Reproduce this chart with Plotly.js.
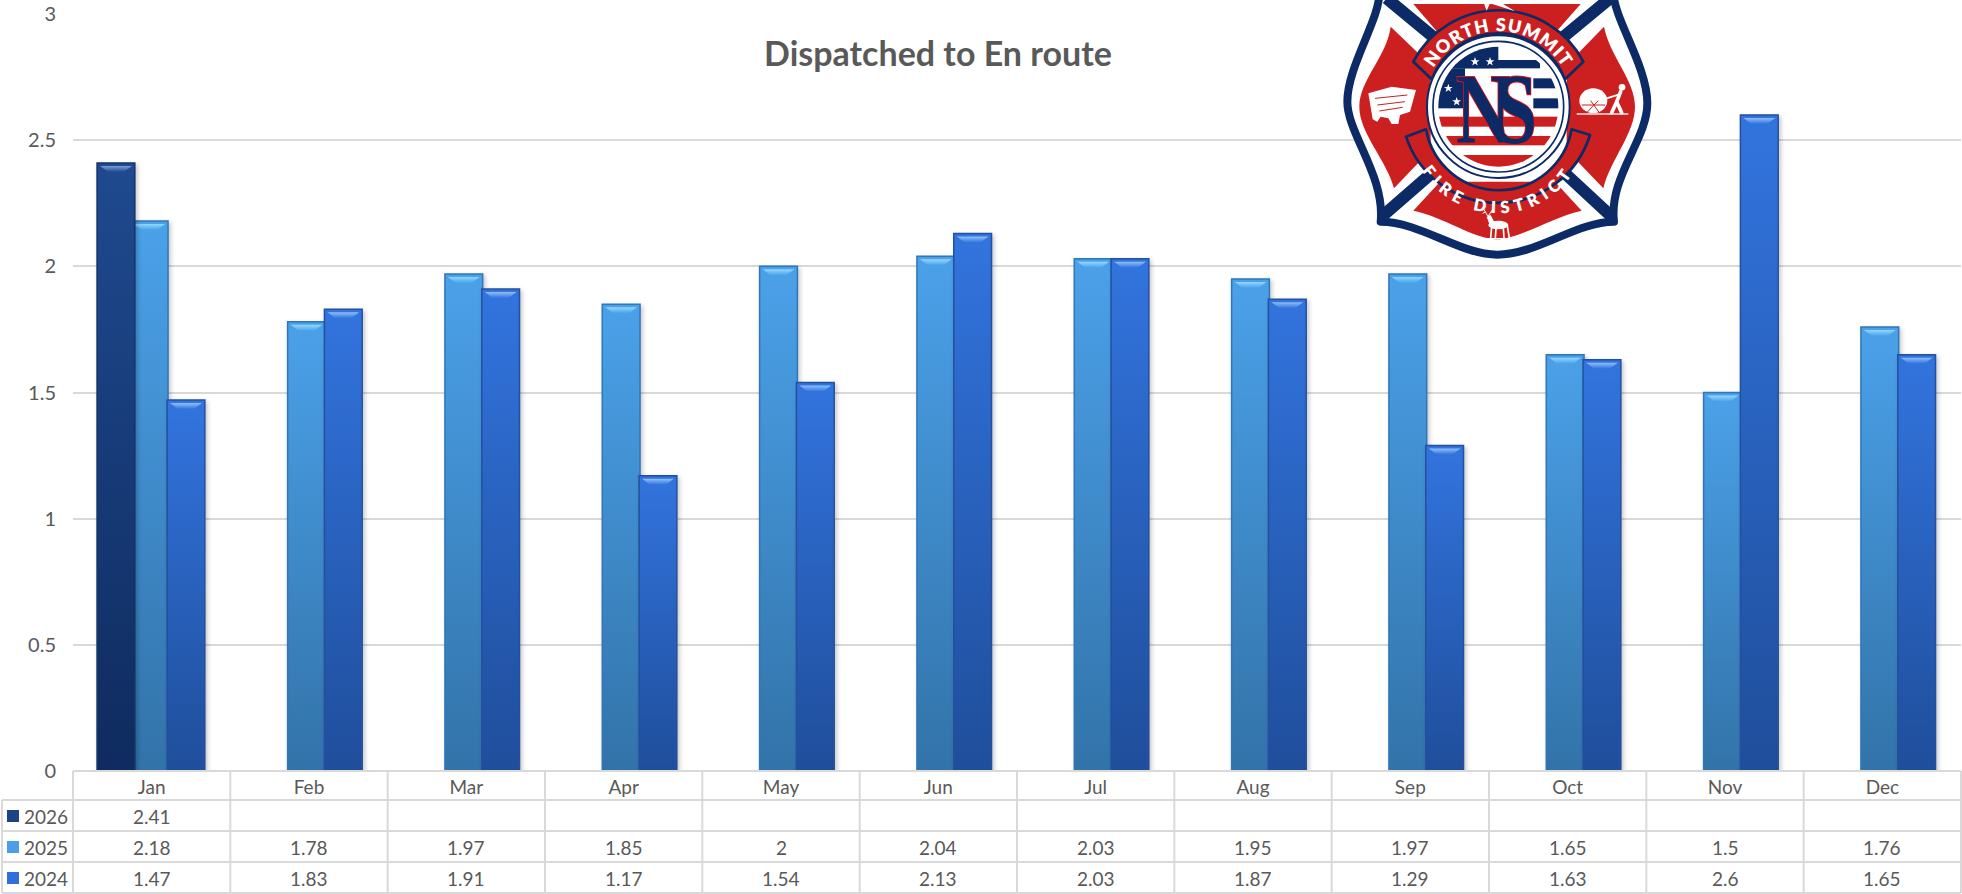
<!DOCTYPE html>
<html>
<head>
<meta charset="utf-8">
<script src="https://cdn.plot.ly/plotly-3.0.0.min.js"></script>
<style>
html,body{margin:0;padding:0;background:#fff;overflow:hidden}
#wrap{position:relative;width:1962px;height:894px}
#chart{position:absolute;left:0;top:0;width:1962px;height:894px}
#logo{position:absolute;left:1320px;top:0;width:340px;height:270px;overflow:hidden}
</style>
</head>
<body>
<div id="wrap">
<div id="chart"></div>
<svg id="logo" viewBox="0 0 1020 810" xmlns="http://www.w3.org/2000/svg">
  <defs>
    <clipPath id="flagClip"><circle cx="535" cy="320" r="180"/></clipPath>
    <path id="arcTop" d="M320,250 A226,226 0 0 1 750,250"/>
    <path id="arcBottom" d="M265,370 A270,270 0 0 0 805,370"/>
    <polygon id="star" points="0,-14 3.3,-4.3 13.3,-4.3 5.3,1.6 8.2,11.3 0,5.3 -8.2,11.3 -5.3,1.6 -13.3,-4.3 -3.3,-4.3"/>
  </defs>
  <path d="M178,-20 C178,60 82,200 82,305 C82,400 196,530 182,665 C300,665 420,764 532,764 C650,764 770,665 882,665 C866,530 982,420 982,310 C982,200 884,60 880,-20 Z" fill="#fff" stroke="#0b2a66" stroke-width="24" stroke-linejoin="round"/>
  <g fill="#cc1f1f">
    <path d="M280,12 L782,12 L700,105 L360,105 Z"/>
    <path d="M212,80 L332,195 L332,450 L222,565 C200,480 118,400 118,320 C118,240 200,170 212,80 Z"/>
    <path d="M852,80 C870,170 945,240 945,320 C945,400 870,480 850,565 L740,450 L740,195 Z"/>
    <path d="M280,632 L360,545 L705,545 L785,632 C700,650 600,716 530,718 C460,716 370,650 280,632 Z"/>
  </g>
  <g stroke="#0b2a66" stroke-width="36">
    <line x1="200" y1="-5" x2="345" y2="115"/>
    <line x1="870" y1="-5" x2="725" y2="115"/>
    <line x1="185" y1="650" x2="335" y2="520"/>
    <line x1="875" y1="650" x2="735" y2="520"/>
  </g>
  <path d="M280,185 A288,288 0 0 1 790,185 L735,238 A214,214 0 0 0 335,238 Z" fill="#cc1f1f" stroke="#0b2a66" stroke-width="8" stroke-linejoin="round"/>
  <path d="M258,410 L318,388 A222,222 0 0 0 755,388 L810,405 A290,290 0 0 1 258,410 Z" fill="#cc1f1f" stroke="#0b2a66" stroke-width="8" stroke-linejoin="round"/>
  <circle cx="535" cy="320" r="214" fill="#fff" stroke="#0b2a66" stroke-width="6"/>
  <circle cx="535" cy="320" r="196" fill="#fff" stroke="#0b2a66" stroke-width="5"/>
  <g clip-path="url(#flagClip)">
    <rect x="340" y="130" width="390" height="380" fill="#fff"/>
    <g fill="#cc1f1f">
      <rect x="340" y="350" width="390" height="30"/>
      <rect x="340" y="408" width="390" height="28"/>
      <rect x="340" y="465" width="390" height="45"/>
    </g>
    <g fill="#0b2a66">
      <rect x="340" y="130" width="195" height="75"/>
      <rect x="340" y="180" width="320" height="25"/>
      <rect x="340" y="205" width="95" height="120"/>
      <rect x="640" y="235" width="90" height="30"/>
      <rect x="640" y="295" width="90" height="30"/>
    </g>
    <g fill="#fff">
      <use href="#star" x="465" y="185"/><use href="#star" x="510" y="185"/><use href="#star" x="510" y="225"/>
      <use href="#star" x="385" y="265"/><use href="#star" x="410" y="305"/>
    </g>
  </g>
  <text transform="translate(408,425) scale(0.75,1)" font-family="Liberation Serif" font-weight="700" font-size="300" letter-spacing="-60" fill="#0b2a66" stroke="#e0141c" stroke-width="6" paint-order="stroke">NS</text>
  <g font-family="Lato" font-weight="800" fill="#fff">
    <text font-size="54"><textPath href="#arcTop" startOffset="50%" text-anchor="middle" letter-spacing="3">NORTH SUMMIT</textPath></text>
    <text font-size="50"><textPath href="#arcBottom" startOffset="50%" text-anchor="middle" letter-spacing="16">FIRE DISTRICT</textPath></text>
  </g>
  <g fill="#fff">
    <path d="M145,280 L215,260 L288,270 L270,335 L240,345 L235,372 L215,372 L205,355 L182,350 L172,365 L158,358 Z"/>
    <g stroke="#cc1f1f" stroke-width="3" fill="none"><path d="M165,295 L262,285 M172,315 L255,305 M178,333 L248,322"/></g>
    <ellipse cx="820" cy="302" rx="42" ry="37"/>
    <g stroke="#cc1f1f" stroke-width="3" fill="none"><path d="M785,315 L855,315 M800,338 L835,302 M838,338 L812,302"/></g>
    <circle cx="906" cy="262" r="10"/>
    <rect x="770" y="340" width="155" height="4"/>
    <g stroke="#fff" stroke-width="11" fill="none" stroke-linecap="round"><path d="M902,275 L890,305 L875,338 M890,305 L905,338"/><path stroke-width="5" d="M898,283 L860,295"/></g>
    <ellipse cx="535" cy="675" rx="30" ry="13"/>
    <path d="M500,650 L512,645 L524,668 L510,678 Z"/>
    <g stroke="#fff" stroke-width="5" fill="none"><path d="M515,680 L512,714 M528,685 L526,714 M550,685 L552,714 M562,678 L568,714"/><path stroke-width="3" d="M503,648 L490,625 M505,648 L520,625 M496,636 L488,640 M513,636 L522,638"/></g>
    <rect x="492" y="714" width="82" height="3"/>
    <path d="M488,0 L500,32 L510,10 L585,34 L530,0 Z"/>
  </g>
</svg>
</div>
<script>
const months = ["Jan","Feb","Mar","Apr","May","Jun","Jul","Aug","Sep","Oct","Nov","Dec"];
const years = ["2026","2025","2024"];
const v2026 = [2.41,null,null,null,null,null,null,null,null,null,null,null];
const v2025 = [2.18,1.78,1.97,1.85,2,2.04,2.03,1.95,1.97,1.65,1.5,1.76];
const v2024 = [1.47,1.83,1.91,1.17,1.54,2.13,2.03,1.87,1.29,1.63,2.6,1.65];
const yTicks = [0,0.5,1,1.5,2,2.5,3];

const series = [v2026,v2025,v2024];
const swatch = ["#1b4486","#4a9fe6","#2f6fdc"];
const gradTop = ["#1f4a8f","#4ba1e9","#3274de"];
const gradBottom = ["#0f2b5f","#3273a9","#1f4e9b"];
const edge = ["#133469","#2f77b8","#24509f"];
const glow = ["#7d9fdc","#93d8fb","#8fc0f8"];
const offsets = [-0.347,-0.136,0.098];
const textColor = "#595959", gridColor = "#d9d9d9";

const W = 1962, H = 894, L = 73, R = 1, T = 14, B = 123;
const px = x => (x - L) / (W - L - R);
const py = y => (H - B - y) / (H - T - B);

// draw 2025, 2024, then 2026 on top
const drawOrder = [1,2,0];
const traces = drawOrder.map(i => ({
  type:"bar", name:years[i], x:months, y:series[i],
  width:0.24, offset:offsets[i],
  marker:{color:swatch[i], line:{color:edge[i], width:1.5}},
  hoverinfo:"skip", showlegend:false
}));

const rowY = [816,847,878];
const annotations = [];
years.forEach((yr,r) => {
  annotations.push({xref:"paper",yref:"paper",x:px(46),y:py(rowY[r]),text:yr,showarrow:false,
    xanchor:"center",yanchor:"middle",font:{family:"Lato",size:19,color:textColor}});
  series[r].forEach((val,c) => {
    if (val === null) return;
    annotations.push({xref:"x",yref:"paper",x:months[c],y:py(rowY[r]),text:String(val),showarrow:false,
      xanchor:"center",yanchor:"middle",font:{family:"Lato",size:19,color:textColor}});
  });
});

const line = (x0,y0,x1,y1) => ({type:"line",xref:"paper",yref:"paper",x0:px(x0),y0:py(y0),x1:px(x1),y1:py(y1),
  line:{color:gridColor,width:2},layer:"above"});
const shapes = [];
[771,800,831,862,893].forEach((y,i) => shapes.push(line(i===0?L:2,y,W-1,y)));
shapes.push(line(2,800,2,893));
for (let i=0;i<=months.length;i++){
  const x = L + i*(W-L-R)/months.length;
  shapes.push(line(Math.min(x,W-1),771,Math.min(x,W-1),893));
}
years.forEach((yr,r) => shapes.push({type:"rect",xref:"paper",yref:"paper",
  x0:px(7),x1:px(19),y0:py(rowY[r]-6),y1:py(rowY[r]+6),
  fillcolor:swatch[r],line:{width:0},layer:"above"}));

const layout = {
  width:W,height:H,
  margin:{l:L,r:R,t:T,b:B,pad:0},
  paper_bgcolor:"#fff",plot_bgcolor:"#fff",
  barmode:"overlay",
  title:{text:"Dispatched to En route",xref:"container",yref:"container",x:938/W,y:1-54/H,
    xanchor:"center",yanchor:"middle",font:{family:"Lato",size:34,weight:700,color:textColor}},
  xaxis:{type:"category",categoryorder:"array",categoryarray:months,range:[-0.5,11.5],
    showgrid:false,zeroline:false,showline:false,ticks:"",
    tickfont:{family:"Lato",size:19,color:textColor},ticklabelstandoff:3},
  yaxis:{range:[0,3],tickvals:yTicks,ticktext:yTicks.map(String),
    gridcolor:gridColor,gridwidth:2,zeroline:false,showline:false,ticks:"",
    tickfont:{family:"Lato",size:20,color:textColor},ticklabelstandoff:16},
  shapes,annotations,showlegend:false
};

Plotly.newPlot("chart",traces,layout,{staticPlot:true,displayModeBar:false}).then(gd => {
  const NS = "http://www.w3.org/2000/svg";
  const svg = gd.querySelector(".main-svg");
  let defs = svg.querySelector("defs");
  const mk = (id,stops) => {
    const g = document.createElementNS(NS,"linearGradient");
    g.setAttribute("id",id);g.setAttribute("x1","0");g.setAttribute("y1","0");g.setAttribute("x2","0");g.setAttribute("y2","1");
    stops.forEach(([o,c]) => {const s=document.createElementNS(NS,"stop");s.setAttribute("offset",o);s.setAttribute("stop-color",c);g.appendChild(s);});
    defs.appendChild(g);
  };
  years.forEach((y,i) => {
    mk("barg"+i,[[0,gradTop[i]],[1,gradBottom[i]]]);
    mk("barh"+i,[[0,glow[i]],[1,gradTop[i]]]);
  });
  gd.querySelectorAll(".barlayer .trace").forEach((tr,t) => {
    const i = drawOrder[t];
    tr.style.filter = "drop-shadow(2px 2px 2px rgba(0,0,0,0.22))";
    tr.querySelectorAll(".point").forEach(pt => {
      const p = pt.querySelector("path");
      if (!p) return;
      const b = p.getBBox();
      if (b.height < 1) return;
      p.style.fill = "url(#barg"+i+")";
      const poly = document.createElementNS(NS,"polygon");
      const y0=b.y+3, y1=b.y+9;
      poly.setAttribute("points",[[b.x+3,y0],[b.x+b.width-3,y0],[b.x+b.width-11,y1],[b.x+11,y1]].map(a=>a.join(",")).join(" "));
      poly.style.fill = "url(#barh"+i+")";
      pt.appendChild(poly);
    });
  });
});
</script>
</body>
</html>
